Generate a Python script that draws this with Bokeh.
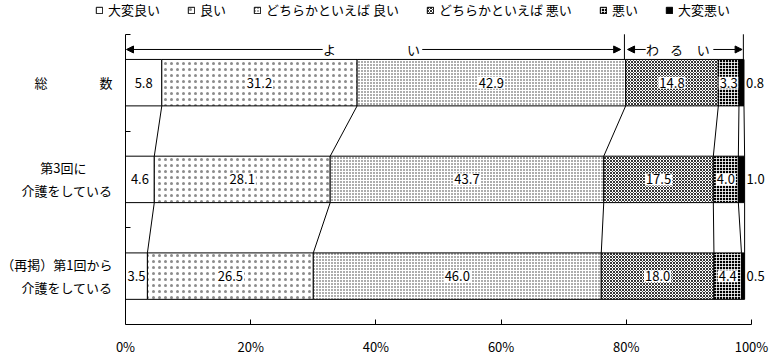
import numpy as np
from bokeh.plotting import figure
from bokeh.models import (Range1d, FixedTicker, Legend, LegendItem,
                          ColumnDataSource, Arrow, NormalHead)
from bokeh.core.properties import value
from bokeh.embed import file_html
from bokeh.resources import INLINE

# ---------------- data ----------------
categories = ["総　　　　数", "第3回に　　\n介護をしている", "（再掲）第1回から\n介護をしている"]
series = ["大変良い", "良い", "どちらかといえば 良い", "どちらかといえば 悪い", "悪い", "大変悪い"]
very_good = [5.8, 4.6, 3.5]
good = [31.2, 28.1, 26.5]
somewhat_good = [42.9, 43.7, 46.0]
somewhat_bad = [14.8, 17.5, 18.0]
bad = [3.3, 4.0, 4.4]
very_bad = [0.8, 1.0, 0.5]
tick_values = [0, 20, 40, 60, 80, 100]
tick_labels = ["0%", "20%", "40%", "60%", "80%", "100%"]
good_text = ["よ", "い"]
bad_text = ["わ", "る", "い"]

# ---------------- styles / layout ----------------
FONT = "Noto Sans CJK JP"
FS = "13px"
W, HGT = 779, 358
AX_LEFT_PX, AX_RIGHT_PX = 125, 751       # pixel of 0% and 100%
AX_TOP_PX, AX_BOTTOM_PX = 34, 326        # pixel of y=3 and y=0
fills = ["white", "white", "white", "white", "black", "black"]
hatches = [" ", "dot", "dot", "diagonal_cross", "cross", " "]
hatch_colors = ["black", "black", "black", "black", "white", "black"]
hatch_scales = [6, 6, 3, 3, 3, 6]
hatch_weights = [1, 0.4, 0.6, 0.8, 0.8, 1]
hatch_alphas = [1, 0.45, 0.8, 1, 1, 1]

values = [very_good, good, somewhat_good, somewhat_bad, bad, very_bad]
n = len(categories)
ypos = [n - i - 0.5 for i in range(n)]
H = 0.48

sx = (AX_RIGHT_PX - AX_LEFT_PX) / 100.0
sy = (AX_BOTTOM_PX - AX_TOP_PX) / 3.0
x_start = -AX_LEFT_PX / sx
x_end = (W - AX_LEFT_PX) / sx
y_end = AX_BOTTOM_PX / sy


def style(k):
    return dict(fill_color=fills[k], line_color="black", line_width=1,
                hatch_pattern=hatches[k], hatch_color=hatch_colors[k],
                hatch_scale=hatch_scales[k], hatch_weight=hatch_weights[k],
                hatch_alpha=hatch_alphas[k])


p = figure(width=W, height=HGT, output_backend="svg", toolbar_location=None,
           x_range=Range1d(x_start, x_end), y_range=Range1d(0, y_end),
           min_border_left=0, min_border_right=0, min_border_top=0,
           min_border_bottom=HGT - AX_BOTTOM_PX,
           outline_line_color=None, background_fill_color="white")
p.xgrid.visible = False
p.ygrid.visible = False

xa = p.xaxis[0]
xa.ticker = FixedTicker(ticks=tick_values, minor_ticks=[])
xa.major_label_overrides = {v: l for v, l in zip(tick_values, tick_labels)}
xa.bounds = (0, 100)
xa.major_tick_in = 5
xa.major_tick_out = 0
xa.minor_tick_in = 0
xa.minor_tick_out = 0
xa.axis_line_color = "black"
xa.major_tick_line_color = "black"
xa.major_label_text_font = FONT
xa.major_label_text_font_size = FS
xa.major_label_text_color = "black"
xa.major_label_standoff = 12

ya_ = p.yaxis[0]
ya_.fixed_location = 0
ya_.ticker = FixedTicker(ticks=ypos, minor_ticks=[1, 2, 3])
ya_.major_label_overrides = {y: c for y, c in zip(ypos, categories)}
ya_.bounds = (0, 3)
ya_.major_tick_in = 0
ya_.major_tick_out = 0
ya_.minor_tick_in = 5
ya_.minor_tick_out = 0
ya_.axis_line_color = "black"
ya_.minor_tick_line_color = "black"
ya_.major_label_text_font = FONT
ya_.major_label_text_font_size = FS
ya_.major_label_text_color = "black"
ya_.major_label_standoff = 13

cum = np.cumsum(np.array(values), axis=0)
starts = np.vstack([np.zeros(n), cum[:-1]])
renderers = []
for k, name in enumerate(series):
    src = ColumnDataSource(dict(y=ypos, left=starts[k], right=cum[k],
                                mid=(starts[k] + cum[k]) / 2,
                                lab=[f"{v:.1f}" for v in values[k]]))
    r = p.hbar(y="y", left="left", right="right", height=H, source=src, **style(k))
    renderers.append(r)
    if k < len(series) - 1:
        p.text(x="mid", y="y", text="lab", source=src, text_align="center",
               text_baseline="middle", text_font=value(FONT), text_font_size=FS,
               text_color="black", background_fill_color="white",
               background_fill_alpha=1.0, padding=1)
    else:
        p.text(x="right", y="y", text="lab", source=src, text_align="left",
               text_baseline="middle", x_offset=2, text_font=value(FONT),
               text_font_size=FS, text_color="black")

# connecting lines between bars
x0, y0, x1, y1 = [], [], [], []
for k in range(len(series)):
    for i in range(n - 1):
        x0.append(cum[k][i]); y0.append(ypos[i] - H / 2)
        x1.append(cum[k][i + 1]); y1.append(ypos[i + 1] + H / 2)
p.segment(x0=x0, y0=y0, x1=x1, y1=y1, line_color="black", line_width=1)

# よい / わるい annotation
yA = 2.843
p.segment(x0=[79.7, 98.7], y0=[ypos[0] + H / 2] * 2, x1=[79.7, 98.7], y1=[3, 3],
          line_color="black", line_width=1)
for xs, xe in [(31.5, 0.16), (47.4, 79.1), (83.1, 80.2), (93.9, 98.5)]:
    p.add_layout(Arrow(end=NormalHead(size=7, fill_color="black", line_color="black"),
                       x_start=xs, y_start=yA, x_end=xe, y_end=yA,
                       line_color="black", line_width=1))
p.text(x=[32.6, 46.0], y=[yA, yA], text=good_text, text_align="center",
       text_baseline="middle", text_font=value(FONT), text_font_size=FS, text_color="black")
p.text(x=[84.2, 88.0, 92.3], y=[yA] * 3, text=bad_text, text_align="center",
       text_baseline="middle", text_font=value(FONT), text_font_size=FS, text_color="black")

# legend (inside the frame, which covers the whole top strip)
lg = Legend(items=[LegendItem(label=name, renderers=[renderers[k]])
                   for k, name in enumerate(series)],
            location=(95, AX_BOTTOM_PX - 21), orientation="horizontal",
            glyph_width=8, glyph_height=8, label_height=13, label_standoff=5,
            padding=0, margin=0, spacing=27, border_line_color=None,
            background_fill_alpha=0, label_text_font=FONT, label_text_font_size=FS,
            label_text_color="black")
p.add_layout(lg)

open("out.html", "w").write(file_html(p, INLINE))
